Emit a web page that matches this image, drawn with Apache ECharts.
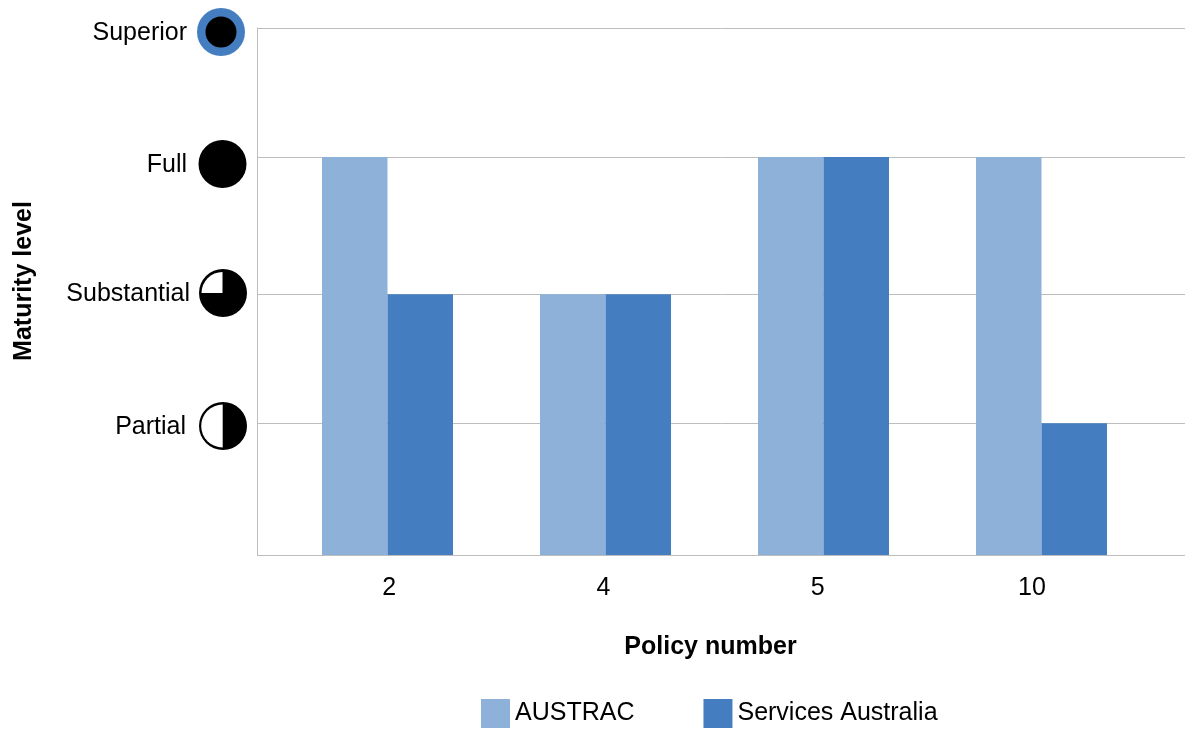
<!DOCTYPE html>
<html>
<head>
<meta charset="utf-8">
<style>
html, body { margin: 0; padding: 0; background: #fff; }
#chart { width: 1185px; height: 729px; }
</style>
<script src="https://cdn.jsdelivr.net/npm/echarts@6/dist/echarts.min.js"></script>
</head>
<body>
<div id="chart"></div>
<script>
// data
const policies = ['2', '4', '5', '10']
const austracLevels = ['Full', 'Substantial', 'Full', 'Full']
const servicesLevels = ['Substantial', 'Substantial', 'Full', 'Partial']
const levelNames = ['Partial', 'Substantial', 'Full', 'Superior']
// the gridlines are not evenly spaced in the original
const levelValues = [1, 1.98, 3.02, 4]

const FONT = '"Liberation Sans", Arial, sans-serif'
const BLUE = '#457ec0'
const LIGHT = '#8eb1da'
const LINE = '#bdbdbd'

const toValue = name => levelValues[levelNames.indexOf(name)]

function levelText (text, right, y) {
  return {
    type: 'text',
    x: right,
    y: y,
    style: { text: text, font: '25px ' + FONT, fill: '#000', align: 'right', verticalAlign: 'middle' }
  }
}

function disc (cx, cy, r, fill) {
  return { type: 'circle', shape: { cx: cx, cy: cy, r: r }, style: { fill: fill } }
}

function wedge (cx, cy, r, start, end) {
  return {
    type: 'sector',
    shape: { cx: cx, cy: cy, r: r, startAngle: start, endAngle: end },
    style: { fill: '#fff' }
  }
}

const hiddenY = { type: 'value', min: 0, max: 4, axisLine: { show: false }, axisTick: { show: false }, axisLabel: { show: false }, splitLine: { show: false } }

const chart = echarts.init(document.getElementById('chart'), null, { renderer: 'canvas' })
chart.setOption({
  backgroundColor: '#fff',
  animation: false,
  textStyle: { fontFamily: FONT },
  // frame and gridlines / bars / tick labels sit on slightly different widths, as in the original
  grid: [
    { left: 257.5, top: 28, width: 928, height: 527, outerBoundsMode: 'none' },
    { left: 278.5, top: 28, width: 872, height: 527, outerBoundsMode: 'none' },
    { left: 282, top: 7, width: 857, height: 548, outerBoundsMode: 'none' }
  ],
  xAxis: [
    {
      gridIndex: 0,
      type: 'category',
      data: policies,
      axisLine: { lineStyle: { color: LINE, width: 1 } },
      axisTick: { show: false },
      axisLabel: { show: false }
    },
    {
      gridIndex: 1,
      type: 'category',
      data: policies,
      axisLine: { show: false },
      axisTick: { show: false },
      axisLabel: { show: false }
    },
    {
      gridIndex: 2,
      type: 'category',
      data: policies,
      name: 'Policy number',
      nameLocation: 'middle',
      nameGap: 80,
      nameTextStyle: { fontSize: 25, fontWeight: 'bold', color: '#000', fontFamily: FONT },
      axisLine: { show: false },
      axisTick: { show: false },
      axisLabel: { fontSize: 25, color: '#000', margin: 21, fontFamily: FONT }
    }
  ],
  yAxis: [
    {
      gridIndex: 0,
      type: 'value',
      min: 0,
      max: 4,
      axisLine: { show: true, lineStyle: { color: LINE, width: 1 } },
      axisTick: { show: false, customValues: [0].concat(levelValues) },
      axisLabel: { show: false, customValues: [0].concat(levelValues) },
      splitLine: { show: true, customValues: levelValues, lineStyle: { color: LINE, width: 1 } }
    },
    Object.assign({}, hiddenY, { gridIndex: 1 }),
    Object.assign({}, hiddenY, {
      gridIndex: 2,
      name: 'Maturity level',
      nameLocation: 'middle',
      nameGap: 245,
      nameTextStyle: { fontSize: 25, fontWeight: 'bold', color: '#000', fontFamily: FONT }
    })
  ],
  legend: {
    left: 481,
    top: 699,
    icon: 'rect',
    itemWidth: 29,
    itemHeight: 29,
    itemGap: 69,
    padding: 0,
    textStyle: { fontSize: 25, color: '#000', fontFamily: FONT },
    data: ['AUSTRAC', 'Services Australia']
  },
  series: [
    {
      name: 'AUSTRAC',
      type: 'bar',
      xAxisIndex: 1,
      yAxisIndex: 1,
      barWidth: 65.5,
      barGap: 0,
      itemStyle: { color: LIGHT },
      data: austracLevels.map(toValue)
    },
    {
      name: 'Services Australia',
      type: 'bar',
      xAxisIndex: 1,
      yAxisIndex: 1,
      barWidth: 65.5,
      barGap: 0,
      itemStyle: { color: BLUE },
      data: servicesLevels.map(toValue)
    }
  ],
  // level names and Harvey balls are hand placed next to the axis in the original
  graphic: [
    levelText('Superior', 187, 33),
    disc(221, 32, 24, BLUE),
    disc(221, 32, 15.5, '#000'),
    levelText('Full', 187, 165),
    disc(222.5, 164, 24, '#000'),
    levelText('Substantial', 190, 294),
    disc(223, 293, 24, '#000'),
    wedge(222.5, 293, 21, Math.PI, Math.PI * 1.5),
    levelText('Partial', 186, 427),
    disc(223, 426, 24, '#000'),
    wedge(222.7, 426, 21.5, Math.PI * 0.5, Math.PI * 1.5)
  ]
})
</script>
</body>
</html>
